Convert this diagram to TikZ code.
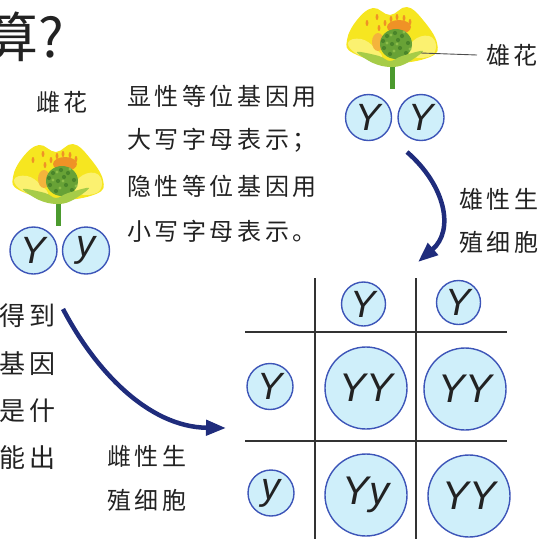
\documentclass[tikz,border=0pt]{standalone}
\usepackage{fontspec}
\newfontfamily\cjk[LetterSpace=15]{Noto Sans CJK SC}
\newfontfamily\cjkwide[LetterSpace=16]{Noto Sans CJK SC}
\newfontfamily\cjkplain{Noto Sans CJK SC}
\newfontfamily\genefont{Liberation Sans}
\usetikzlibrary{arrows.meta}

\definecolor{cellfill}{HTML}{CFEFFA}
\definecolor{cellline}{HTML}{3D55B8}
\definecolor{arrowblue}{HTML}{1F2C7C}
\definecolor{petal}{HTML}{F6E620}
\definecolor{petallight}{HTML}{FBF170}
\definecolor{sepal}{HTML}{A6CC48}
\definecolor{core}{HTML}{68A236}
\definecolor{coredark}{HTML}{4A852A}
\definecolor{corelight}{HTML}{8DBE4A}
\definecolor{stamen}{HTML}{EF9226}
\definecolor{glow}{HTML}{F4B43C}
\definecolor{stemgreen}{HTML}{4B9A2E}
\definecolor{ink}{HTML}{222222}

\tikzset{
  gamete/.style={circle, draw=cellline, line width=1.4pt, fill=cellfill,
    inner sep=0pt, minimum size=46pt, text=ink,
    font=\genefont\itshape\fontsize{38}{38}\selectfont},
  zygote/.style={gamete, minimum size=82pt,
    font=\genefont\itshape\fontsize{40}{40}\selectfont},
  cntext/.style={inner sep=0pt, anchor=west, text=ink,
    font=\cjk\fontsize{24}{24}\selectfont},
  sidetext/.style={inner sep=0pt, anchor=east, text=ink,
    font=\cjkwide\fontsize{26}{26}\selectfont},
  flow/.style={draw=arrowblue, line width=4.5pt,
    -{Triangle[length=20pt,width=15pt]}},
  gridline/.style={line width=1.8pt, draw=black!80},
  pointer/.style={line width=0.9pt, draw=black!70},
  flower/.pic={
    % stem
    \fill[stemgreen] (-3,-2) rectangle (2,27);
    % petals
    \fill[petal] plot[smooth cycle, tension=0.7] coordinates
      {(-46,-22) (-36,-42) (-20,-54) (-3,-47) (14,-55) (30,-42)
       (44,-19) (37,-5) (-3,1) (-40,-9)};
    \fill[petallight] plot[smooth cycle, tension=0.8] coordinates
      {(-45,-19) (-32,-23) (-18,-14) (-12,-4) (-34,-7)};
    \fill[petallight] plot[smooth cycle, tension=0.8] coordinates
      {(20,-21) (36,-26) (43,-15) (35,-5) (17,-7)};
    % orange glow and stamen cluster behind the core
    \fill[glow] (-15,-20) ellipse [x radius=6pt, y radius=9pt];
    \fill[stamen] (6,-35) ellipse [x radius=12pt, y radius=7pt];
    \foreach \p in {(-8,-39),(-2,-43),(4,-45),(11,-44),(17,-40),(-14,-34)}
      \fill[stamen] \p ellipse [x radius=1.4pt, y radius=3pt];
    \foreach \p in {(-26,-39),(-16,-45)}
      \fill[stamen] \p ellipse [x radius=1.4pt, y radius=3pt];
    % core
    \fill[core] (3,-18) ellipse [x radius=16pt, y radius=15pt];
    \foreach \p in {(-6,-26),(2,-29),(9,-26),(15,-19),(-9,-14),(-1,-18),
                    (7,-14),(13,-9),(-3,-8),(5,-22),(-10,-21)}
      \fill[coredark] \p circle (2.1pt);
    \foreach \p in {(-2,-27),(11,-30),(-6,-19),(4,-18),(17,-13),(1,-11)}
      \fill[corelight] \p circle (1.6pt);
    % sepals
    \fill[sepal] plot[smooth cycle, tension=0.6] coordinates
      {(-36,-10) (-14,-6) (-3,-1) (9,-6) (30,-11) (12,2) (-3,5) (-20,1)};
  }
}

\begin{document}
\begin{tikzpicture}[x=1pt, y=-1pt]
  \useasboundingbox (0,0) rectangle (551,539);
  \clip (0,0) rectangle (551,539);

  % heading fragment
  \node[anchor=east, inner sep=0pt, text=ink,
        font=\cjkplain\fontsize{54}{54}\selectfont] (heading) at (64,37) {算?};

  % flowers
  \pic at (393,62) {flower};
  \pic at (59,199) {flower};

  % male parent
  \coordinate (maleflower) at (421,53);
  \node[cntext] (malelabel) at (486,55) {雄花};
  \draw[pointer] (maleflower) -- ([xshift=-9pt]malelabel.west);
  \node[gamete] (mY1) at (368.5,117.5) {Y};
  \node[gamete] (mY2) at (421,117.5) {Y};

  % female parent
  \node[cntext] (femlabel) at (36,102) {雌花};
  \node[gamete, minimum size=47pt] (fY) at (33.5,250.5) {Y};
  \node[gamete, minimum size=47pt] (fy) at (86,250.5) {y};

  % notation rule
  \node[cntext] (rule1) at (127,96)  {显性等位基因用};
  \node[cntext] (rule2) at (127,140) {大写字母表示；};
  \node[cntext] (rule3) at (127,186) {隐性等位基因用};
  \node[cntext] (rule4) at (127,231) {小写字母表示。};

  % running text cut at the left margin
  \node[sidetext] (side1) at (56,316) {得到};
  \node[sidetext] (side2) at (56,364) {基因};
  \node[sidetext] (side3) at (56,411) {是什};
  \node[sidetext] (side4) at (56,458) {能出};

  % gamete captions
  \node[cntext] (malecell1) at (459,199) {雄性生};
  \node[cntext] (malecell2) at (459,242) {殖细胞};
  \node[cntext] (femcell1) at (107,456) {雌性生};
  \node[cntext] (femcell2) at (107,500) {殖细胞};

  % Punnett square grid
  \coordinate (hA) at (245,332);  \coordinate (hB) at (507,332);
  \coordinate (hC) at (245,441);  \coordinate (hD) at (507,441);
  \coordinate (vA) at (315,278);  \coordinate (vB) at (315,539);
  \coordinate (vC) at (416,278);  \coordinate (vD) at (416,539);
  \draw[gridline] (hA) -- (hB);
  \draw[gridline] (hC) -- (hD);
  \draw[gridline] (vA) -- (vB);
  \draw[gridline] (vC) -- (vD);

  \node[gamete, minimum size=44pt] (top1) at (363.5,304) {Y};
  \node[gamete, minimum size=44pt] (top2) at (458.5,302.5) {Y};
  \node[gamete] (left1) at (270,386.5) {Y};
  \node[gamete] (left2) at (271,493) {y};

  \node[zygote] (c11) at (366,388) {YY};
  \node[zygote] (c12) at (465,389) {YY};
  \node[zygote] (c21) at (366,495) {Yy};
  \node[zygote] (c22) at (469,496) {YY};

  % flow arrows
  \coordinate (malestart) at (407,152);
  \coordinate (maleend) at (418,262);
  \coordinate (femstart) at (63,309);
  \coordinate (femend) at (226,428);
  \draw[flow] (malestart) .. controls (445,185) and (455,230) .. (maleend);
  \draw[flow] (femstart) .. controls (95,370) and (148,427) .. (femend);
\end{tikzpicture}
\end{document}
